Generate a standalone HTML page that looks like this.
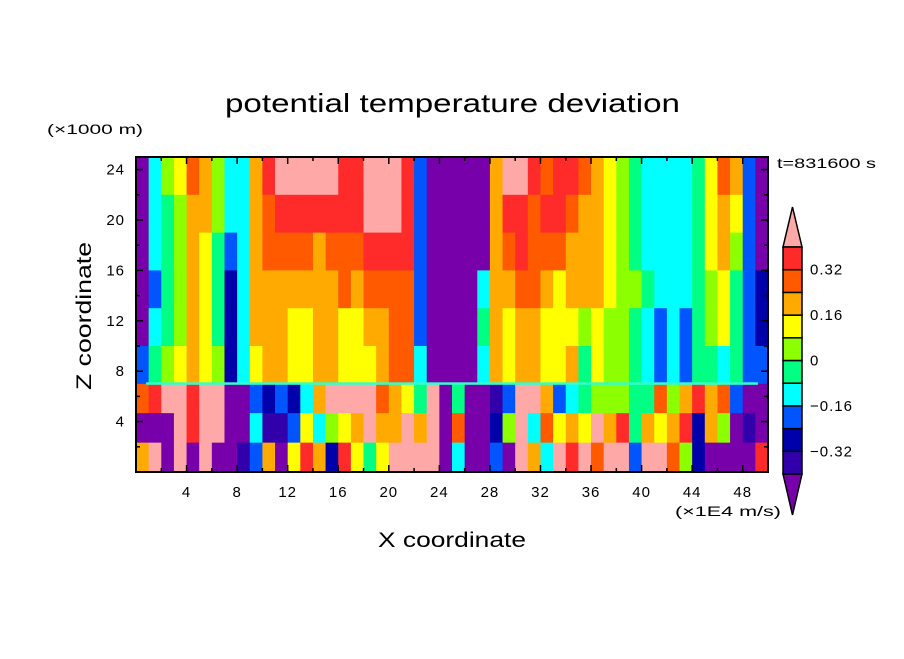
<!DOCTYPE html>
<html><head><meta charset="utf-8"><style>
html,body{margin:0;padding:0;background:#fff;}
svg text{font-family:"Liberation Sans",sans-serif;fill:#000;}
</style></head><body>
<svg id="chart" width="904" height="654" viewBox="0 0 904 654" xmlns="http://www.w3.org/2000/svg">
<text x="225" y="112" font-size="26" textLength="455" lengthAdjust="spacingAndGlyphs">potential temperature deviation</text>
<text x="47" y="134" font-size="14" textLength="96" lengthAdjust="spacingAndGlyphs">(×1000 m)</text>
<text x="777" y="168" font-size="14" textLength="99" lengthAdjust="spacingAndGlyphs">t=831600 s</text>
<text x="91" y="390" font-size="21" textLength="148" lengthAdjust="spacingAndGlyphs" transform="rotate(-90 91 390)">Z coordinate</text>
<text x="378" y="547" font-size="21" textLength="148" lengthAdjust="spacingAndGlyphs">X coordinate</text>
<text x="675" y="516" font-size="14" textLength="106" lengthAdjust="spacingAndGlyphs">(×1E4 m/s)</text>
<g id="cells"></g>
<g id="axes"></g>
<g id="cbar"></g>
</svg>
<script>
// x columns: 1 unit each from 0 to 50; z bands listed top to bottom
const zBands = [[22,25],[19,22],[16,19],[13,16],[10,13],[7,10],[4.67,7],[2.33,4.67],[0,2.33]];
const row0 = [-0.45,-0.12,0.04,0.12,0.28,0.2,0.04,-0.12,-0.12,0.2,0.36,0.45,0.45,0.45,0.45,0.45,0.36,0.36,0.45,0.45,0.45,0.36,-0.2,-0.45,-0.45,
 -0.45,-0.45,-0.45,0.2,0.45,0.45,0.36,0.28,0.36,0.36,0.28,0.2,0.12,0.04,-0.04,-0.12,-0.12,-0.12,-0.12,-0.04,0.12,0.28,0.2,-0.2,-0.45];
const row1 = [-0.45,-0.12,-0.04,0.04,0.2,0.2,0.04,-0.12,-0.12,0.2,0.28,0.36,0.36,0.36,0.36,0.36,0.36,0.36,0.45,0.45,0.45,0.36,-0.2,-0.45,-0.45,
 -0.45,-0.45,-0.45,0.2,0.36,0.36,0.28,0.36,0.36,0.28,0.2,0.2,0.12,0.04,-0.04,-0.12,-0.12,-0.12,-0.12,-0.04,0.12,0.2,0.12,-0.2,-0.45];
const row2 = [-0.45,-0.12,-0.04,0.04,0.2,0.12,-0.04,-0.2,-0.12,0.2,0.28,0.28,0.28,0.28,0.2,0.28,0.28,0.28,0.36,0.36,0.36,0.36,-0.2,-0.45,-0.45,
 -0.45,-0.45,-0.45,0.2,0.28,0.36,0.28,0.28,0.28,0.2,0.2,0.2,0.12,0.04,-0.04,-0.12,-0.12,-0.12,-0.12,-0.04,0.12,0.2,0.04,-0.2,-0.45];
const row3 = [-0.45,-0.2,-0.04,0.04,0.2,0.12,-0.04,-0.28,-0.12,0.2,0.2,0.2,0.2,0.2,0.2,0.2,0.28,0.2,0.28,0.28,0.28,0.28,-0.2,-0.45,-0.45,
 -0.45,-0.45,-0.12,0.2,0.2,0.28,0.28,0.2,0.12,0.2,0.2,0.2,0.12,0.04,0.04,-0.04,-0.12,-0.12,-0.12,-0.04,0.04,0.12,-0.04,-0.2,-0.28];
const row4 = [-0.45,-0.12,-0.04,0.04,0.2,0.12,-0.04,-0.28,-0.12,0.2,0.2,0.2,0.12,0.12,0.2,0.2,0.12,0.12,0.2,0.2,0.28,0.28,-0.2,-0.45,-0.45,
 -0.45,-0.45,-0.04,0.2,0.12,0.2,0.2,0.12,0.12,0.12,0.04,0.12,0.04,0.04,-0.04,-0.12,-0.2,-0.12,-0.2,-0.04,0.04,0.12,-0.04,-0.2,-0.28];
const row5 = [-0.2,-0.04,0.04,0.12,0.2,0.12,0.04,-0.3,-0.12,0.12,0.2,0.2,0.12,0.12,0.2,0.2,0.12,0.12,0.12,0.2,0.28,0.28,-0.12,-0.45,-0.45,
 -0.45,-0.45,-0.12,0.2,0.12,0.2,0.2,0.12,0.12,0.2,-0.04,0.12,0.04,0.04,-0.04,-0.12,-0.2,-0.12,-0.2,-0.04,-0.04,-0.12,-0.04,-0.2,-0.2];
const row6 = [0.3,0.36,0.45,0.45,0.36,0.45,0.45,-0.45,-0.45,-0.2,-0.28,-0.2,-0.28,-0.12,0.2,0.45,0.45,0.45,0.45,0.28,0.2,0.12,-0.04,0.45,-0.45,
 0.0,-0.45,-0.45,-0.36,-0.2,0.45,0.45,0.2,-0.2,-0.12,-0.04,0.04,0.04,0.04,-0.04,-0.04,0.28,0.04,0.2,0.36,0.2,0.28,-0.2,-0.45,-0.45];
const row7 = [-0.45,-0.45,-0.45,0.45,0.36,0.45,0.45,-0.45,-0.45,-0.12,-0.36,-0.36,-0.2,0.12,-0.12,0.04,0.12,0.2,0.45,0.2,0.2,0.45,0.2,0.45,-0.45,
 0.3,-0.45,-0.45,-0.28,0.04,0.45,-0.12,0.28,0.12,0.2,0.12,0.45,0.2,0.36,-0.04,0.2,0.12,0.2,0.36,-0.28,0.2,0.04,-0.45,-0.36,-0.45];
const row8 = [0.2,0.45,-0.45,0.45,-0.45,0.45,-0.45,-0.45,-0.36,-0.2,0.2,-0.45,0.12,0.36,0.2,-0.28,0.36,0.12,-0.04,0.12,0.45,0.45,0.45,0.45,-0.45,
 -0.12,-0.45,-0.45,-0.2,-0.45,0.45,0.2,-0.12,0.45,0.36,0.45,0.28,0.45,0.45,-0.2,0.45,0.45,0.28,0.04,-0.28,-0.45,-0.45,-0.45,-0.45,0.36];
const fieldRows = [row0,row1,row2,row3,row4,row5,row6,row7,row8];
const levels = [-0.4,-0.32,-0.24,-0.16,-0.08,0,0.08,0.16,0.24,0.32,0.4];
const colorbarLabels = ["0.32","0.16","0","\u22120.16","\u22120.32"];
const colorbarLabelValues = [0.32,0.16,0,-0.16,-0.32];
const xTickLabels = [4,8,12,16,20,24,28,32,36,40,44,48];
const zTickLabels = [4,8,12,16,20,24];

const colors = ["#7800aa","#3200aa","#0000aa","#0055ff","#00ffff","#00ff82","#8cff00","#ffff00","#ffaa00","#ff5a00","#ff2a2a","#ffa8a8"];
const NS="http://www.w3.org/2000/svg";
const X0=136,X1=768,Y0=472,Y1=157;
const xs = v => X0 + v*(X1-X0)/50;
const zs = v => Y0 - v*(Y0-Y1)/25;
function colorOf(v){let i=0;while(i<levels.length&&v>levels[i])i++;return colors[i];}
function mk(tag,attrs,parent){const e=document.createElementNS(NS,tag);for(const k in attrs)e.setAttribute(k,attrs[k]);parent.appendChild(e);return e;}

const cells=document.getElementById('cells');
fieldRows.forEach((row,ri)=>{
  const b=zBands[ri];
  row.forEach((v,ci)=>{
    const r=mk('rect',{x:xs(ci),y:zs(b[1]),width:xs(ci+1)-xs(ci)+0.5,height:zs(b[0])-zs(b[1])+0.5,fill:colorOf(v)},cells);
    
    
  });
});
const sep=mk('rect',{x:xs(0.8),y:zs(7)-1.5,width:xs(49.2)-xs(0.8),height:2.5,fill:"#33ffcc"},cells);



const axes=document.getElementById('axes');
const frame=mk('rect',{x:X0,y:Y1,width:X1-X0,height:Y0-Y1,fill:"none",stroke:"#000","stroke-width":2},axes);


for(let t=2;t<50;t+=2){
  const len=(t%4===0)?7:4;
  mk('line',{x1:xs(t),x2:xs(t),y1:Y0,y2:Y0-len,stroke:"#000","stroke-width":1.5},axes);
  mk('line',{x1:xs(t),x2:xs(t),y1:Y1,y2:Y1+len,stroke:"#000","stroke-width":1.5},axes);
}
for(let t=2;t<25;t+=2){
  const len=(t%4===0)?7:4;
  mk('line',{x1:X0,x2:X0+len,y1:zs(t),y2:zs(t),stroke:"#000","stroke-width":1.5},axes);
  mk('line',{x1:X1,x2:X1-len,y1:zs(t),y2:zs(t),stroke:"#000","stroke-width":1.5},axes);
}
xTickLabels.forEach(t=>{
  const e=mk('text',{x:xs(t),y:497,"font-size":15,"letter-spacing":1,"text-anchor":"middle"},axes);
  e.textContent=t;
  
  
});
zTickLabels.forEach(t=>{
  const e=mk('text',{x:125,y:zs(t)+5,"font-size":15,"letter-spacing":1,"text-anchor":"end"},axes);
  e.textContent=t;
  
  
});

const cb=document.getElementById('cbar');
const CX0=783,CX1=802,CT=247,CB=474;
const step=(CB-CT)/10;
const cy = v => CB - (v-levels[0])/0.08*step;
const topTri=mk('polygon',{points:`${CX0},${CT} ${CX1},${CT} ${(CX0+CX1)/2},207`,fill:colors[11],stroke:"#000","stroke-width":1.5},cb);


const botTri=mk('polygon',{points:`${CX0},${CB} ${CX1},${CB} ${(CX0+CX1)/2},515`,fill:colors[0],stroke:"#000","stroke-width":1.5},cb);


for(let i=0;i<10;i++){
  const r=mk('rect',{x:CX0,y:cy(levels[i+1]),width:CX1-CX0,height:step,fill:colors[i+1],stroke:"#000","stroke-width":1.5},cb);
  
  
}
colorbarLabels.forEach((s,i)=>{
  const e=mk('text',{x:810,y:cy(colorbarLabelValues[i])+5,"font-size":15,"letter-spacing":1},cb);
  e.textContent=s;
  
  
});
</script>
</body></html>
